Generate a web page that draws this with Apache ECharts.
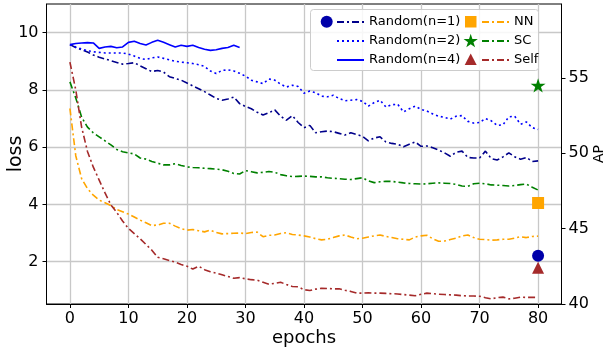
<!DOCTYPE html>
<html>
<head>
<meta charset="utf-8">
<script src="https://cdn.jsdelivr.net/npm/echarts@6/dist/echarts.min.js"></script>
<style>
  html, body { margin: 0; padding: 0; background: #fff; }
  #chart { width: 607px; height: 348px; }
</style>
</head>
<body>
<div id="chart"></div>
<script>
const epochs = Array.from({ length: 81 }, (_, i) => i);

const random1Loss = [
  9.58, 9.48, 9.40, 9.32, 9.22, 9.14, 9.08, 9.02, 8.96, 8.90,
  8.92, 8.95, 8.84, 8.74, 8.64, 8.68, 8.62, 8.46, 8.40, 8.34,
  8.24, 8.14, 8.04, 7.94, 7.82, 7.70, 7.64, 7.68, 7.75, 7.52,
  7.42, 7.34, 7.22, 7.12, 7.20, 7.30, 7.08, 6.94, 7.10, 6.86,
  6.68, 6.76, 6.50, 6.54, 6.56, 6.54, 6.48, 6.42, 6.50, 6.44,
  6.38, 6.22, 6.32, 6.36, 6.18, 6.13, 6.10, 6.01, 6.10, 6.18,
  6.03, 6.04, 5.98, 5.90, 5.80, 5.68, 5.82, 5.86, 5.64, 5.62,
  5.62, 5.86, 5.60, 5.55, 5.66, 5.80, 5.66, 5.58, 5.64, 5.50,
  5.52
];
const random2Loss = [
  9.58, 9.50, 9.43, 9.37, 9.33, 9.31, 9.29, 9.29, 9.29, 9.29,
  9.25, 9.18, 9.10, 9.06, 9.12, 9.15, 9.10, 9.05, 9.00, 8.97,
  8.95, 8.92, 8.88, 8.82, 8.66, 8.57, 8.68, 8.70, 8.66, 8.58,
  8.48, 8.34, 8.28, 8.22, 8.38, 8.34, 8.20, 8.10, 8.16, 8.12,
  7.88, 7.96, 7.90, 7.78, 7.76, 7.81, 7.70, 7.62, 7.64, 7.66,
  7.60, 7.43, 7.56, 7.64, 7.40, 7.48, 7.50, 7.23, 7.34, 7.43,
  7.32, 7.26, 7.16, 7.08, 7.04, 6.98, 7.08, 7.10, 6.90, 6.84,
  6.86, 7.00, 6.92, 6.76, 6.78, 7.06, 7.08, 6.80, 6.88, 6.68,
  6.62
];
const random4Loss = [
  9.58, 9.62, 9.64, 9.65, 9.64, 9.45, 9.50, 9.52, 9.47, 9.50,
  9.66, 9.70, 9.62, 9.57, 9.66, 9.73, 9.66, 9.58, 9.50, 9.56,
  9.52, 9.56, 9.48, 9.42, 9.38, 9.40, 9.45, 9.48, 9.56, 9.48
];
const nnLoss = [
  7.35, 5.70, 4.90, 4.55, 4.32, 4.15, 4.06, 3.96, 3.82, 3.74,
  3.66, 3.56, 3.45, 3.36, 3.26, 3.28, 3.34, 3.34, 3.24, 3.15,
  3.10, 3.12, 3.08, 3.04, 3.10, 3.02, 2.97, 2.98, 2.99, 3.00,
  2.98, 3.02, 3.03, 2.87, 2.92, 2.93, 2.98, 3.01, 2.95, 2.93,
  2.90, 2.86, 2.80, 2.76, 2.78, 2.84, 2.90, 2.93, 2.86, 2.80,
  2.82, 2.86, 2.90, 2.93, 2.88, 2.84, 2.80, 2.78, 2.76, 2.86,
  2.90, 2.92, 2.80, 2.71, 2.72, 2.77, 2.82, 2.90, 2.93, 2.84,
  2.78, 2.77, 2.75, 2.76, 2.78, 2.78, 2.82, 2.87, 2.84, 2.88,
  2.89
];
const scLoss = [
  8.28, 7.72, 7.05, 6.70, 6.50, 6.36, 6.22, 6.08, 5.92, 5.84,
  5.80, 5.76, 5.62, 5.58, 5.50, 5.44, 5.38, 5.38, 5.42, 5.36,
  5.31, 5.29, 5.28, 5.26, 5.25, 5.23, 5.21, 5.16, 5.08, 5.06,
  5.18, 5.14, 5.10, 5.12, 5.15, 5.12, 5.04, 5.00, 4.97, 4.98,
  4.99, 4.98, 4.96, 4.96, 4.93, 4.91, 4.90, 4.88, 4.87, 4.90,
  4.93, 4.82, 4.76, 4.79, 4.81, 4.80, 4.78, 4.75, 4.73, 4.72,
  4.71, 4.72, 4.74, 4.75, 4.74, 4.73, 4.70, 4.64, 4.63, 4.72,
  4.74, 4.72, 4.68, 4.67, 4.66, 4.64, 4.66, 4.69, 4.71, 4.60,
  4.50
];
const selfLoss = [
  8.97, 8.00, 6.70, 5.85, 5.30, 4.85, 4.40, 3.98, 3.72, 3.42,
  3.16, 2.98, 2.80, 2.60, 2.40, 2.15, 2.10, 2.04, 1.98, 1.90,
  1.84, 1.74, 1.84, 1.72, 1.65, 1.60, 1.54, 1.48, 1.42, 1.44,
  1.40, 1.37, 1.35, 1.28, 1.21, 1.24, 1.28, 1.20, 1.13, 1.12,
  1.02, 0.99, 1.04, 1.07, 1.06, 1.05, 1.05, 1.00, 0.96, 0.90,
  0.90, 0.91, 0.90, 0.90, 0.89, 0.88, 0.87, 0.85, 0.83, 0.81,
  0.86, 0.90, 0.88, 0.86, 0.85, 0.84, 0.83, 0.81, 0.80, 0.80,
  0.79, 0.74, 0.70, 0.74, 0.76, 0.70, 0.72, 0.76, 0.75, 0.75,
  0.75
];

// final AP after training, plotted on the right axis
const apEpoch = 80;
const apNames = ['Random(n=1)', 'NN', 'SC', 'Self'];
const apValues = [43.2, 46.7, 54.5, 42.4];

const xTicks = [0, 10, 20, 30, 40, 50, 60, 70, 80];
const lossTicks = [2, 4, 6, 8, 10];
const apTicks = [40, 45, 50, 55];

const FONT = 'DejaVu Sans';
const DASHDOT = [7, 3, 2, 3];

function starPoints(cx, cy, R) {
  const pts = [];
  for (let k = 0; k < 10; k++) {
    const a = -Math.PI / 2 + k * Math.PI / 5;
    const r = k % 2 ? R * 0.382 : R;
    pts.push([cx + r * Math.cos(a), cy + r * Math.sin(a)]);
  }
  return pts;
}
const starPath = 'path://' + starPoints(0, 0, 10)
  .map((p, i) => (i ? 'L' : 'M') + p[0].toFixed(2) + ' ' + p[1].toFixed(2)).join(' ') + ' Z';

function lineSeries(name, values, color, type) {
  return {
    name: name,
    type: 'line',
    data: values.map((v, i) => [epochs[i], v]),
    symbol: 'none',
    showSymbol: false,
    lineStyle: { color: color, width: 1.6, type: type },
    itemStyle: { color: color },
    z: 3
  };
}

function apSeries(idx, symbol, size, color) {
  return {
    name: apNames[idx] + ' AP',
    type: 'scatter',
    yAxisIndex: 1,
    data: [[apEpoch, apValues[idx]]],
    symbol: symbol,
    symbolSize: size,
    itemStyle: { color: color, opacity: 1 },
    clip: false,
    z: 6
  };
}

const chart = echarts.init(document.getElementById('chart'));

const axisText = { fontSize: 16, fontFamily: FONT, color: '#000' };
const legendBase = {
  orient: 'vertical', top: 15.5, padding: 0,
  itemWidth: 27, itemHeight: 13, itemGap: 6,
  textStyle: { fontSize: 13, fontFamily: FONT, color: '#000' },
  itemStyle: { color: 'rgba(0,0,0,0)', borderColor: 'rgba(0,0,0,0)', borderWidth: 0 },
  selectedMode: false, z: 10
};

chart.setOption({
  animation: false,
  grid: {
    left: 46.5, right: 45.5, top: 4, bottom: 44,
    show: true, borderColor: '#000', borderWidth: 1,
    containLabel: false, outerBoundsMode: 'none'
  },
  xAxis: {
    type: 'value',
    min: -4, max: 84, splitNumber: 9,
    name: 'epochs', nameLocation: 'middle', nameGap: 25.5, nameMoveOverlap: false,
    nameTextStyle: { fontSize: 18, fontFamily: FONT, color: '#000' },
    axisLine: { show: true, onZero: false, lineStyle: { color: '#000', width: 1 } },
    axisTick: { show: true, length: 4, customValues: xTicks, lineStyle: { color: '#000' } },
    axisLabel: Object.assign({ customValues: xTicks, margin: 7 }, axisText),
    splitLine: { show: true, lineStyle: { color: '#c8c8c8', width: 1.3 } }
  },
  yAxis: [
    {
      type: 'value', position: 'left',
      min: 0.52, max: 11, splitNumber: 5,
      name: 'loss', nameLocation: 'middle', nameGap: 21, nameRotate: 90, nameMoveOverlap: false,
      nameTextStyle: { fontSize: 19, fontFamily: FONT, color: '#000' },
      axisLine: { show: true, onZero: false, lineStyle: { color: '#000', width: 1 } },
      axisTick: { show: true, length: 4, customValues: lossTicks, lineStyle: { color: '#000' } },
      axisLabel: Object.assign({ customValues: lossTicks, margin: 8 }, axisText),
      splitLine: { show: true, lineStyle: { color: '#c8c8c8', width: 1.3 } }
    },
    {
      type: 'value', position: 'right',
      min: 40, max: 59.9, interval: 5,
      name: 'AP', nameLocation: 'middle', nameGap: 30.5, nameRotate: 90, nameMoveOverlap: false,
      nameTextStyle: { fontSize: 14, fontFamily: FONT, color: '#000' },
      axisLine: { show: true, onZero: false, lineStyle: { color: '#000', width: 1 } },
      axisTick: { show: true, length: 4, customValues: apTicks, lineStyle: { color: '#000' } },
      axisLabel: Object.assign({ customValues: apTicks, margin: 7 }, axisText),
      splitLine: { show: false }
    }
  ],
  legend: [
    Object.assign({ data: ['Random(n=1)', 'Random(n=2)', 'Random(n=4)'], left: 336 }, legendBase),
    Object.assign({ data: ['NN', 'SC', 'Self'], left: 481 }, legendBase)
  ],
  graphic: {
    z: 9,
    elements: [
      {
        type: 'rect', z: 9,
        shape: { x: 310.5, y: 9.5, width: 228, height: 61, r: 3 },
        style: { fill: 'rgba(255,255,255,0.85)', stroke: '#cccccc', lineWidth: 1 }
      },
      { type: 'circle', z: 11, shape: { cx: 326.7, cy: 21.7, r: 6 }, style: { fill: '#0000aa' } },
      { type: 'rect', z: 11, shape: { x: 465, y: 16, width: 11.5, height: 11.5 }, style: { fill: '#ffa500' } },
      { type: 'polygon', z: 11, shape: { points: starPoints(470.7, 41.3, 7.5) }, style: { fill: '#008000' } },
      { type: 'polygon', z: 11, shape: { points: [[470.7, 53.5], [464.7, 65], [476.7, 65]] }, style: { fill: '#a52a2a' } }
    ]
  },
  series: [
    lineSeries('Random(n=1)', random1Loss, '#00008b', DASHDOT),
    lineSeries('Random(n=2)', random2Loss, '#0000ff', [2, 3]),
    lineSeries('Random(n=4)', random4Loss, '#0000ff', 'solid'),
    lineSeries('NN', nnLoss, '#ffa500', DASHDOT),
    lineSeries('SC', scLoss, '#008000', DASHDOT),
    lineSeries('Self', selfLoss, '#a52a2a', DASHDOT),
    apSeries(0, 'circle', 12, '#0000aa'),
    apSeries(1, 'rect', 12, '#ffa500'),
    apSeries(2, starPath, [15, 14.3], '#008000'),
    apSeries(3, 'triangle', 12, '#a52a2a')
  ]
});
</script>
</body>
</html>
